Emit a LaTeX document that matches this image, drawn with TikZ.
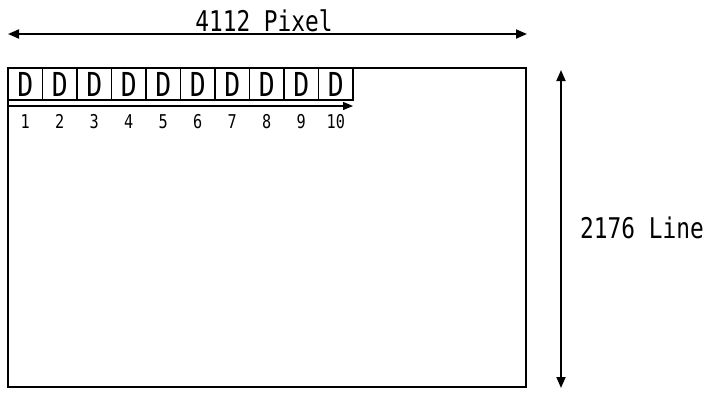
\documentclass[tikz,border=0pt]{standalone}
\usepackage{fontspec}
\setmainfont{DejaVu Sans Mono}[FakeStretch=0.8]
\usetikzlibrary{arrows.meta, positioning}

\begin{document}
\begin{tikzpicture}[x=1pt, y=-1pt, >={Triangle[length=11pt, width=9pt]},
  cell/.style={draw, line width=1.8pt, minimum width=34.5pt, minimum height=32pt,
    inner sep=0pt, outer sep=0pt, font=\fontsize{33}{33}\selectfont},
  num/.style={inner sep=0pt, outer sep=0pt, text height=13.5pt, text depth=0pt,
    font=\fontsize{19}{19}\selectfont},
  dim/.style={font=\fontsize{28.5}{28.5}\selectfont}]

\useasboundingbox (0,0) rectangle (713,392);

% Frame
\node (frame) [draw, line width=2pt, minimum width=518pt, minimum height=319pt,
  inner sep=0pt, outer sep=0pt, anchor=north west] at (8,68) {};

% Data cells
\node (d1) [cell, anchor=north west] at (frame.north west) {D};
\node (d2) [cell, right=0pt of d1] {D};
\node (d3) [cell, right=0pt of d2] {D};
\node (d4) [cell, right=0pt of d3] {D};
\node (d5) [cell, right=0pt of d4] {D};
\node (d6) [cell, right=0pt of d5] {D};
\node (d7) [cell, right=0pt of d6] {D};
\node (d8) [cell, right=0pt of d7] {D};
\node (d9) [cell, right=0pt of d8] {D};
\node (d10) [cell, right=0pt of d9] {D};

% Cell numbers
\node (n1) [num, below=15pt of d1] {1};
\node (n2) [num, below=15pt of d2] {2};
\node (n3) [num, below=15pt of d3] {3};
\node (n4) [num, below=15pt of d4] {4};
\node (n5) [num, below=15pt of d5] {5};
\node (n6) [num, below=15pt of d6] {6};
\node (n7) [num, below=15pt of d7] {7};
\node (n8) [num, below=15pt of d8] {8};
\node (n9) [num, below=15pt of d9] {9};
\node (n10) [num, below=15pt of d10] {10};

% Dimension labels
\node (wlabel) [dim] at (264,21) {4112 Pixel};
\node (hlabel) [dim] at (642,228) {2176 Line};

% Arrow ends
\coordinate (sl) at ([yshift=-6pt]d1.south west);
\coordinate (sr) at ([yshift=-6pt]d10.south east);
\coordinate (wl) at (8,34);
\coordinate (wr) at (527,34);
\coordinate (ht) at (561,70);
\coordinate (hb) at (561,388);

% Arrows
\draw[-{Triangle[length=10pt, width=8pt]}, line width=1.2pt] (sl) -- (sr);
\draw[<->, line width=1.8pt] (wl) -- (wr);
\draw[<->, line width=1.8pt] (ht) -- (hb);

\end{tikzpicture}
\end{document}
